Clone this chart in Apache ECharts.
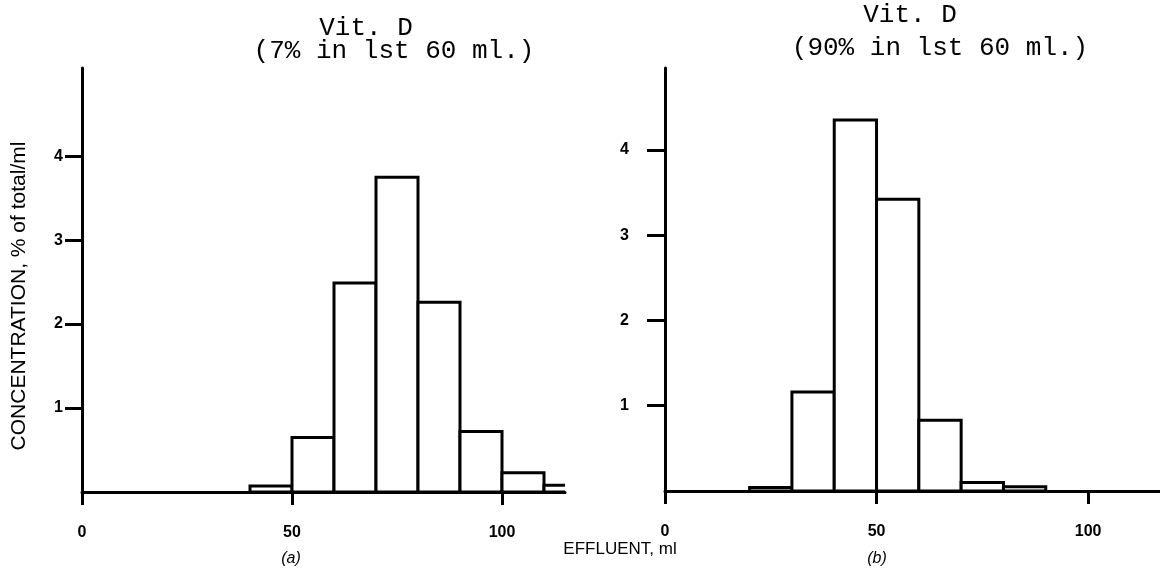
<!DOCTYPE html>
<html>
<head>
<meta charset="utf-8">
<script src="https://cdn.jsdelivr.net/npm/echarts@6/dist/echarts.min.js"></script>
<style>
html,body{margin:0;padding:0;background:#fff;}
#chart{width:1160px;height:571px;}
</style>
</head>
<body>
<div id="chart"></div>
<script>
// ---- data ----
var binWidth = 10;
var binStartsA = [40, 50, 60, 70, 80, 90, 100, 110];
var valuesA = [0.07, 0.65, 2.49, 3.75, 2.26, 0.72, 0.23, 0.08];
var binStartsB = [20, 30, 40, 50, 60, 70, 80];
var valuesB = [0.04, 1.16, 4.35, 3.42, 0.83, 0.10, 0.05];
var xTickValues = [0, 50, 100];
var yTickValues = [1, 2, 3, 4];
var titleA = ['Vit. D', '(7% in lst 60 ml.)'];
var titleB = ['Vit. D', '(90% in lst 60 ml.)'];
var yName = 'CONCENTRATION, % of total/ml';
var xName = 'EFFLUENT, ml';

function toRows(starts, vals) {
  return starts.map(function (s, i) { return [s, s + binWidth, vals[i]]; });
}

function renderBin(params, api) {
  var p0 = api.coord([api.value(0), 0]);
  var p1 = api.coord([api.value(1), api.value(2)]);
  return {
    type: 'rect',
    shape: { x: p0[0], y: p1[1], width: p1[0] - p0[0], height: p0[1] - p1[1] },
    style: { fill: '#fff', stroke: '#000', lineWidth: 3 }
  };
}

var chart = echarts.init(document.getElementById('chart'), null, { renderer: 'canvas' });

var labelFont = { fontFamily: 'Liberation Sans, Arial, sans-serif', fontWeight: 'bold', fontSize: 16, color: '#000' };

function xAxes(grid, max) {
  return [
    { gridIndex: grid, type: 'value', min: 0, max: max,
      axisLine: { show: true, onZero: false, lineStyle: { color: '#000', width: 3 } },
      axisTick: { show: false }, axisLabel: { show: false }, splitLine: { show: false } },
    { gridIndex: grid, type: 'value', min: 0, max: max, position: 'bottom', offset: 6,
      axisLine: { show: false },
      axisTick: { show: true, length: 13, customValues: xTickValues, lineStyle: { color: '#000', width: 3 } },
      axisLabel: Object.assign({ customValues: xTickValues, margin: 27 }, labelFont),
      splitLine: { show: false } }
  ];
}
function yAxis(grid, max, margin, tickLen) {
  return { gridIndex: grid, type: 'value', min: 0, max: max, interval: 1,
    axisLine: { show: true, onZero: false, lineStyle: { color: '#000', width: 3 } },
    axisTick: { show: true, length: tickLen, customValues: yTickValues, lineStyle: { color: '#000', width: 3 } },
    axisLabel: Object.assign({ customValues: yTickValues, margin: margin }, labelFont),
    splitLine: { show: false } };
}

var monoFont = 'Liberation Mono, Courier New, monospace';

chart.setOption({
  backgroundColor: '#fff',
  animation: false,
  grid: [
    { left: 82, top: 68, width: 483, height: 424 },
    { left: 665, top: 68, width: 496, height: 423 }
  ],
  xAxis: xAxes(0, 115).concat(xAxes(1, 117)),
  yAxis: [ yAxis(0, 5.05, 19, 17), yAxis(1, 4.96, 36, 18) ],
  series: [
    { type: 'custom', xAxisIndex: 0, yAxisIndex: 0, data: toRows(binStartsA, valuesA),
      renderItem: renderBin, encode: { x: [0, 1], y: 2 }, clip: true },
    { type: 'custom', xAxisIndex: 2, yAxisIndex: 1, data: toRows(binStartsB, valuesB),
      renderItem: renderBin, encode: { x: [0, 1], y: 2 }, clip: true }
  ],
  graphic: [
    { type: 'text', x: 366, y: 28, style: { text: titleA[0], font: '26px ' + monoFont, fill: '#000', align: 'center', verticalAlign: 'middle' } },
    { type: 'text', x: 394, y: 51, style: { text: titleA[1], font: '26px ' + monoFont, fill: '#000', align: 'center', verticalAlign: 'middle' } },
    { type: 'text', x: 910, y: 15, style: { text: titleB[0], font: '26px ' + monoFont, fill: '#000', align: 'center', verticalAlign: 'middle' } },
    { type: 'text', x: 940, y: 48, style: { text: titleB[1], font: '26px ' + monoFont, fill: '#000', align: 'center', verticalAlign: 'middle' } },
    { type: 'text', x: 19, y: 296, rotation: Math.PI / 2, style: { text: yName, font: '21px Liberation Sans, Arial, sans-serif', fill: '#000', align: 'center', verticalAlign: 'middle' } },
    { type: 'text', x: 620, y: 549, style: { text: xName, font: '17px Liberation Sans, Arial, sans-serif', fill: '#000', align: 'center', verticalAlign: 'middle' } },
    { type: 'text', x: 291, y: 559, style: { text: '(a)', font: 'italic 16px Liberation Sans, Arial, sans-serif', fill: '#000', align: 'center', verticalAlign: 'middle' } },
    { type: 'text', x: 877, y: 559, style: { text: '(b)', font: 'italic 16px Liberation Sans, Arial, sans-serif', fill: '#000', align: 'center', verticalAlign: 'middle' } }
  ]
});
</script>
</body>
</html>
